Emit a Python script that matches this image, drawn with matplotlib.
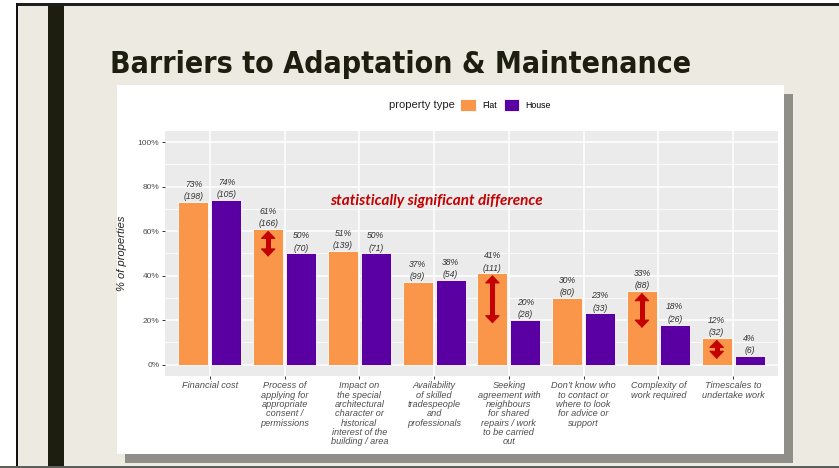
import matplotlib
matplotlib.use("Agg")
import matplotlib.pyplot as plt
from matplotlib.patches import Rectangle

# data
categories = [
    "Financial cost",
    "Process of\napplying for\nappropriate\nconsent /\npermissions",
    "Impact on\nthe special\narchitectural\ncharacter or\nhistorical\ninterest of the\nbuilding / area",
    "Availability\nof skilled\ntradespeople\nand\nprofessionals",
    "Seeking\nagreement with\nneighbours\nfor shared\nrepairs / work\nto be carried\nout",
    "Don\u2019t know who\nto contact or\nwhere to look\nfor advice or\nsupport",
    "Complexity of\nwork required",
    "Timescales to\nundertake work",
]
flat_pct = [73, 61, 51, 37, 41, 30, 33, 12]
house_pct = [74, 50, 50, 38, 20, 23, 18, 4]
flat_n = [198, 166, 139, 99, 111, 80, 88, 32]
house_n = [105, 70, 71, 54, 28, 33, 26, 6]
significant = [False, True, False, False, True, False, True, True]

ORANGE = "#F9964A"
PURPLE = "#5A00A3"
RED = "#C40000"
BG = "#EDEAE2"
TXT = "#4D4D4D"

W, H = 839, 468
fig = plt.figure(figsize=(W / 100, H / 100), dpi=100)
fig.patch.set_facecolor("white")


def px_rect(x0, y0, x1, y1, color, z=0):
    fig.patches.append(Rectangle((x0 / W, 1 - y1 / H), (x1 - x0) / W, (y1 - y0) / H,
                                 transform=fig.transFigure, facecolor=color,
                                 edgecolor="none", zorder=z))


# slide frame
px_rect(16, 3, W, H, BG, 0)
px_rect(16, 3, W, 6, "#1F1F1F", 1)
px_rect(16, 3, 18, H, "#111111", 1)
px_rect(0, 466, W, H, "#5E5E5A", 1)
px_rect(48, 6, 64, 466, "#1E1E10", 1)
px_rect(125, 94, 793, 463, "#8F8E88", 1)
px_rect(117, 85, 784, 454, "white", 2)

fig.text(110 / W, 1 - 73 / H, "Barriers to Adaptation & Maintenance",
         family="DejaVu Sans", fontstretch="condensed", fontweight="bold",
         fontsize=21.7, color="#1E1E10", va="baseline", ha="left")

ax = fig.add_axes([165 / W, 1 - 375.7 / H, 613 / W, 244.7 / H])
ax.set_zorder(3)
ax.set_facecolor("#EBEBEB")
for s in ax.spines.values():
    s.set_visible(False)

x = list(range(1, len(categories) + 1))
off = 0.22
bw = 0.4
xf = [i - off for i in x]
xh = [i + off for i in x]
bf = ax.bar(xf, flat_pct, width=bw, color=ORANGE, edgecolor="white", linewidth=0.6, zorder=2)
bh = ax.bar(xh, house_pct, width=bw, color=PURPLE, edgecolor="white", linewidth=0.6, zorder=2)

lab_font = dict(family="Liberation Sans", style="italic", fontsize=6.2, color="#333333",
                ha="center", va="center")
for xs, vals, ns in [(xf, flat_pct, flat_n), (xh, house_pct, house_n)]:
    for xi, v, n in zip(xs, vals, ns):
        ax.annotate(f"({n})", (xi, v), xytext=(0, 3.8), textcoords="offset points", **lab_font)
        ax.annotate(f"{v}%", (xi, v), xytext=(0, 12.7), textcoords="offset points", **lab_font)

# red double arrows between the flat and house levels where the gap is significant
for xi, fv, hv, sig in zip(xf, flat_pct, house_pct, significant):
    if sig:
        lo, hi = hv - 1.5, fv - 0.8
        ax.vlines(xi, lo + 2, hi - 2, color=RED, lw=3.6, zorder=4)
        ax.annotate("", xy=(xi, hi), xytext=(xi, lo),
                    arrowprops=dict(arrowstyle="<|-|>,head_length=0.5,head_width=0.48",
                                    mutation_scale=10, lw=0.8, color=RED,
                                    shrinkA=0, shrinkB=0), zorder=4)

ax.text(4.03, 73.5, "statistically significant difference", family=["Lato", "DejaVu Sans"],
        fontweight="bold", style="italic", fontsize=11, color=RED, ha="center", va="center")

ax.set_xlim(0.4, 8.6)
ax.set_ylim(-5, 105)
ax.set_yticks([0, 20, 40, 60, 80, 100])
ax.set_yticklabels([f"{t}%" for t in [0, 20, 40, 60, 80, 100]],
                   family="Liberation Sans", fontsize=6, color=TXT)
ax.set_yticks([10, 30, 50, 70, 90], minor=True)
ax.set_xticks(x)
ax.set_xticklabels(categories, family="Liberation Sans", style="italic", fontsize=6.6,
                   color=TXT, linespacing=1.05, va="top")
ax.tick_params(axis="both", which="major", length=2.5, width=0.7, color="#333333", pad=1.5)
ax.tick_params(axis="y", which="minor", length=0)
ax.grid(which="major", color="white", lw=1.1, zorder=0)
ax.grid(which="minor", axis="y", color="white", lw=0.55, zorder=0)
ax.set_axisbelow(True)
ax.set_ylabel("% of properties", family="Liberation Sans", style="italic", fontsize=8,
              color="#222222", labelpad=8)

fig.text(455 / W, 1 - 105 / H, "property type", family="Liberation Sans", fontsize=8.1,
         color="#222222", ha="right", va="center", zorder=5)
leg = fig.legend([bf, bh], ["Flat", "House"], ncol=2, loc="center left",
                 bbox_to_anchor=(460 / W, 1 - 105 / H), frameon=False,
                 prop=dict(family="Liberation Sans", size=6.3),
                 handlelength=1.8, handleheight=1.8, handletextpad=0.7,
                 columnspacing=0.8, borderpad=0, borderaxespad=0)
leg.set_zorder(5)

fig.savefig("out.png", dpi=100)
